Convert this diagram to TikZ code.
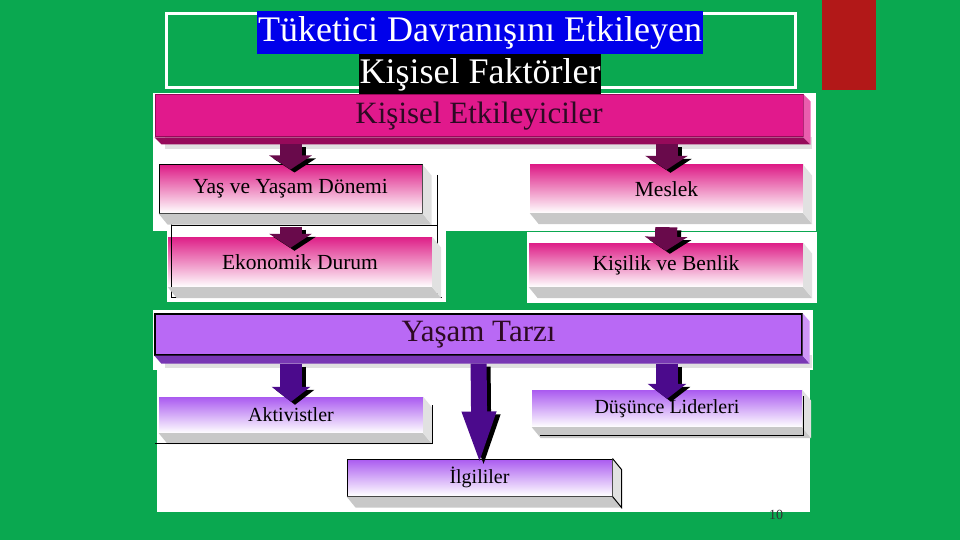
\documentclass[tikz,border=0pt]{standalone}
\usepackage{fontspec}
\setmainfont{Liberation Serif}
\usetikzlibrary{arrows.meta}

\definecolor{slidegreen}{RGB}{10,168,80}
\definecolor{slidered}{RGB}{178,24,24}
\definecolor{titleblue}{RGB}{0,0,235}
\definecolor{barpink}{RGB}{225,25,140}
\definecolor{barpinkdark}{RGB}{150,10,90}
\definecolor{boxpink}{RGB}{222,30,135}
\definecolor{arrowmaroon}{RGB}{105,10,75}
\definecolor{barpurple}{RGB}{185,105,245}
\definecolor{barpurpledark}{RGB}{120,55,180}
\definecolor{boxpurple}{RGB}{170,90,240}
\definecolor{arrowindigo}{RGB}{75,10,140}
\definecolor{extgray}{RGB}{200,200,200}
\definecolor{textdark}{RGB}{45,10,35}

\tikzset{
  titletext/.style={text=white, inner xsep=1pt, inner ysep=0pt, font=\fontsize{36}{36}\selectfont},
  mainbar/.style={inner sep=0pt, line width=1pt, text=textdark, font=\fontsize{31}{31}\selectfont},
  pinkbox/.style={top color=boxpink, bottom color=white, inner sep=0pt, text=black, font=\fontsize{21.5}{21.5}\selectfont},
  purplebox/.style={top color=boxpurple, bottom color=white, inner sep=0pt, text=black, font=\fontsize{20}{20}\selectfont},
  pinkarrow/.style={draw=arrowmaroon, line width=22pt, -{Triangle[length=14pt,width=42pt]}},
  purplearrow/.style={draw=arrowindigo, line width=22pt, -{Triangle[length=15pt,width=38pt]}},
  longarrow/.style={draw=arrowindigo, line width=16pt, -{Triangle[length=55pt,width=30pt]}},
  arrowshadow/.style={draw=black, transform canvas={xshift=4pt,yshift=-3pt}},
}

\begin{document}
\begin{tikzpicture}[x=1pt,y=-1pt]
  \fill[slidegreen] (0,0) rectangle (960,540);
  \useasboundingbox (0,0) rectangle (960,540);
  \fill[slidered] (822,0) rectangle (876,90);
  \draw[white, line width=3pt] (166,14) rectangle (795,88);

  % white grounds of the pasted pictures
  \fill[white] (153,93) rectangle (816,231);
  \fill[white] (167,230) rectangle (446,302);
  \fill[white] (527,232) rectangle (817,303);
  \fill[white] (153,310) rectangle (813,370);
  \fill[white] (157,369) rectangle (810,512);

  % title
  \node[titletext, fill=titleblue, minimum height=43] (title1) at (480,32.5) {Tüketici Davranışını Etkileyen};
  \node[titletext, fill=black, minimum height=42] (title2) at (480,75) {Kişisel Faktörler};

  % bars
  \fill[black!12] (165,137) rectangle (812,149);
  \node[mainbar, fill=barpink, draw=barpinkdark, minimum width=648, minimum height=42]
    (kisisel) at (479,116) {Kişisel Etkileyiciler};
  \fill[barpinkdark] (kisisel.south west) -- ++(7,7) -- ([shift={(7,7)}]kisisel.south east) -- (kisisel.south east) -- cycle;
  \fill[barpink!70] (kisisel.north east) -- ++(7,7) -- ([shift={(7,7)}]kisisel.south east) -- (kisisel.south east) -- cycle;

  \fill[black!12] (165,355) rectangle (812,368);
  \node[mainbar, fill=barpurple, draw=black, line width=1.3pt, minimum width=647, minimum height=41]
    (yasam) at (478.5,334.5) {Yaşam Tarzı};
  \fill[barpurpledark] (yasam.south west) -- ++(7,8) -- ([shift={(7,8)}]yasam.south east) -- (yasam.south east) -- cycle;
  \fill[barpurple!70] (yasam.north east) -- ++(7,8) -- ([shift={(7,8)}]yasam.south east) -- (yasam.south east) -- cycle;

  % boxes
  \node[pinkbox, minimum width=264, minimum height=50] (ekon) at (300,262) {Ekonomik Durum};
  \draw[black, line width=1pt] (171,213) -- (171,297) -- (442,297) (437,175) -- (437,297) (171,225) -- (437,225);
  \node[pinkbox, draw=black, line width=1pt, minimum width=263, minimum height=48] (yas) at (290.5,189) {Yaş ve Yaşam Dönemi};
  \node[pinkbox, minimum width=273, minimum height=48] (meslek) at (666.5,189) {Meslek};
  \node[pinkbox, minimum width=274, minimum height=44] (kisilik) at (666,265) {Kişilik ve Benlik};

  \node[purplebox, minimum width=264, minimum height=36] (akt) at (291,415) {Aktivistler};
  \node[purplebox, minimum width=270, minimum height=37] (dus) at (667,408.5) {Düşünce Liderleri};
  \node[purplebox, draw=black, line width=1pt, minimum width=265, minimum height=37] (ilgili) at (479.5,477.5) {İlgililer};

  \foreach \b in {yas,meslek,ekon,kisilik,akt,dus,ilgili} {
    \fill[extgray] (\b.south west) -- ++(9,11) -- ([shift={(9,11)}]\b.south east) -- (\b.south east) -- cycle;
    \fill[extgray!55] (\b.north east) -- ++(9,11) -- ([shift={(9,11)}]\b.south east) -- (\b.south east) -- cycle;
  }
  \draw[black, line width=1pt] (155,443) -- (432,443) -- (432,405) (540,435) -- (803,435) -- (803,396);
  \draw[black, line width=1pt] (ilgili.north east) -- ++(9,11) -- ([shift={(9,11)}]ilgili.south east) -- (ilgili.south east);

  % arrows
  \draw[pinkarrow, arrowshadow, shorten <=7pt, shorten >=-5pt] (yas.north |- kisisel.south) -- (yas.north);
  \draw[pinkarrow, shorten <=7pt, shorten >=-5pt] (yas.north |- kisisel.south) -- (yas.north);
  \draw[pinkarrow, arrowshadow, shorten <=7pt, shorten >=-5pt] (meslek.north |- kisisel.south) -- (meslek.north);
  \draw[pinkarrow, shorten <=7pt, shorten >=-5pt] (meslek.north |- kisisel.south) -- (meslek.north);
  \draw[pinkarrow, arrowshadow, shorten <=13pt, shorten >=-11pt] (yas.south) -- (yas.south |- ekon.north);
  \draw[pinkarrow, shorten <=13pt, shorten >=-11pt] (yas.south) -- (yas.south |- ekon.north);
  \draw[pinkarrow, arrowshadow, shorten <=14pt, shorten >=-8pt] (meslek.south) -- (kisilik.north);
  \draw[pinkarrow, shorten <=14pt, shorten >=-8pt] (meslek.south) -- (kisilik.north);

  \draw[purplearrow, arrowshadow, shorten <=8pt, shorten >=-5pt] (akt.north |- yasam.south) -- (akt.north);
  \draw[purplearrow, shorten <=8pt, shorten >=-5pt] (akt.north |- yasam.south) -- (akt.north);
  \draw[purplearrow, arrowshadow, shorten <=8pt, shorten >=-9pt] (dus.north |- yasam.south) -- (dus.north);
  \draw[purplearrow, shorten <=8pt, shorten >=-9pt] (dus.north |- yasam.south) -- (dus.north);
  \draw[longarrow, arrowshadow, shorten <=8pt, shorten >=-8pt] (yasam.south) -- (ilgili.north);
  \draw[longarrow, shorten <=8pt, shorten >=-8pt] (yasam.south) -- (ilgili.north);

  \node[font=\fontsize{14}{14}\selectfont, text=black!80] (page) at (776,515) {10};
\end{tikzpicture}
\end{document}
